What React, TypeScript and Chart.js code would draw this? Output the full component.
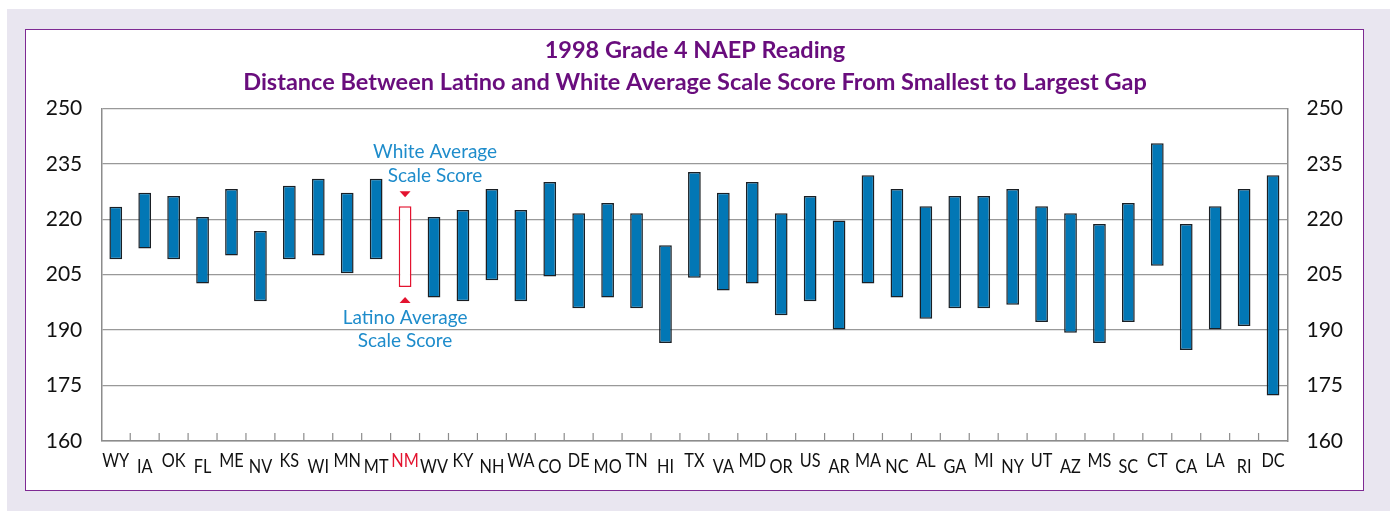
import React, { useEffect, useRef } from "react";
import { Chart, registerables } from "chart.js";

Chart.register(...registerables);

const states = ["WY","IA","OK","FL","ME","NV","KS","WI","MN","MT","NM","WV","KY","NH","WA","CO","DE","MO","TN","HI","TX","VA","MD","OR","US","AR","MA","NC","AL","GA","MI","NY","UT","AZ","MS","SC","CT","CA","LA","RI","DC"];
const whiteScores = [223.4,227.2,226.3,220.6,228.2,216.8,229.1,231.0,227.2,231.0,223.5,220.6,222.5,228.2,222.5,230.1,221.6,224.4,221.6,213.0,232.8,227.2,230.1,221.6,226.3,219.7,231.9,228.2,223.5,226.3,226.3,228.2,223.5,221.6,218.7,224.4,240.6,218.7,223.5,228.2,231.9];
const latinoScores = [209.2,212.1,209.2,202.6,210.2,197.8,209.2,210.2,205.4,209.2,201.7,198.8,197.8,203.5,197.8,204.5,195.9,198.8,195.9,186.5,204.2,200.7,202.6,194.0,197.8,190.2,202.6,198.8,193.1,195.9,195.9,196.9,192.2,189.3,186.5,192.2,207.4,184.6,190.2,191.1,172.3];
const highlightState = "NM";
const yTicks = [160, 175, 190, 205, 220, 235, 250];
const titleLines = [
  "1998 Grade 4 NAEP Reading",
  "Distance Between Latino and White Average Scale Score From Smallest to Largest Gap",
];
const whiteNote = ["White Average", "Scale Score"];
const latinoNote = ["Latino Average", "Scale Score"];

const BLUE = "#0277B5";
const RED = "#E3132F";
const NOTE = "#1E8CCB";
const PURPLE = "#690D7D";
const FONT = "Lato, 'Noto Sans', sans-serif";

export default function App() {
  const ref = useRef<HTMLCanvasElement | null>(null);

  useEffect(() => {
    if (!ref.current) return;
    const hi = states.indexOf(highlightState);

    const overlay = {
      id: "overlay",
      afterDraw(chart: any) {
        const ctx = chart.ctx;
        const xs = chart.scales.x;
        const ys = chart.scales.y;
        const area = chart.chartArea;
        ctx.save();
        // inner tick marks at category boundaries
        ctx.strokeStyle = "#8c8c8c";
        ctx.lineWidth = 1.2;
        for (let i = 1; i < states.length; i++) {
          const bx = (xs.getPixelForValue(i) + xs.getPixelForValue(i - 1)) / 2;
          ctx.beginPath();
          ctx.moveTo(bx, area.bottom);
          ctx.lineTo(bx, area.bottom - 8);
          ctx.stroke();
        }
        // x labels, alternating heights
        ctx.font = `18.5px ${FONT}`;
        ctx.textAlign = "center";
        ctx.textBaseline = "middle";
        states.forEach((s, i) => {
          const x = xs.getPixelForValue(i);
          const y = area.bottom + 20 + (i % 2 ? 6 : 0);
          ctx.fillStyle = s === highlightState ? RED : "#111";
          ctx.save();
          ctx.translate(x, y);
          ctx.scale(0.88, 1);
          ctx.fillText(s, 0, 0);
          ctx.restore();
        });
        // highlight annotations
        if (hi >= 0) {
          const x = xs.getPixelForValue(hi);
          const top = ys.getPixelForValue(whiteScores[hi]);
          const bot = ys.getPixelForValue(latinoScores[hi]);
          ctx.fillStyle = RED;
          ctx.beginPath();
          ctx.moveTo(x - 5.5, top - 15);
          ctx.lineTo(x + 5.5, top - 15);
          ctx.lineTo(x, top - 9);
          ctx.closePath();
          ctx.fill();
          ctx.beginPath();
          ctx.moveTo(x - 5.5, bot + 16);
          ctx.lineTo(x + 5.5, bot + 16);
          ctx.lineTo(x, bot + 10);
          ctx.closePath();
          ctx.fill();
          ctx.fillStyle = NOTE;
          ctx.font = `19px ${FONT}`;
          ctx.fillText(whiteNote[0], x + 30, top - 54);
          ctx.fillText(whiteNote[1], x + 30, top - 30);
          ctx.fillText(latinoNote[0], x, bot + 31);
          ctx.fillText(latinoNote[1], x, bot + 54);
        }
        ctx.restore();
      },
    };

    const chart = new Chart(ref.current, {
      type: "bar",
      data: {
        labels: states,
        datasets: [
          {
            data: states.map((_, i) => [latinoScores[i], whiteScores[i]]) as any,
            backgroundColor: states.map((s) => (s === highlightState ? "#ffffff" : BLUE)),
            borderColor: states.map((s) => (s === highlightState ? RED : "#1a1f24")),
            borderWidth: 1.5,
            borderSkipped: false,
            barPercentage: 0.44,
            categoryPercentage: 1,
            yAxisID: "y",
          },
        ],
      },
      options: {
        animation: false,
        responsive: false,
        maintainAspectRatio: false,
        layout: { padding: { top: 0, left: 0, right: 0, bottom: 0 } },
        plugins: {
          legend: { display: false },
          tooltip: { enabled: false },
          title: {
            display: true,
            text: titleLines,
            color: PURPLE,
            font: { family: FONT, size: 23.5, weight: "bold", lineHeight: 1.36 },
            padding: { top: 34, bottom: 10.5 },
          },
        },
        scales: {
          x: {
            type: "category",
            grid: { display: false, drawTicks: false },
            border: { display: true, color: "#8c8c8c", width: 1.5 },
            ticks: { display: false },
            afterFit(scale: any) {
              scale.height = 70;
            },
          },
          y: {
            type: "linear",
            position: "left",
            min: 160,
            max: 250,
            afterBuildTicks(scale: any) {
              scale.ticks = yTicks.map((v) => ({ value: v }));
            },
            grid: { color: "#999999", lineWidth: 1.3, drawTicks: false },
            border: { display: true, color: "#8c8c8c", width: 1.5 },
            ticks: {
              color: "#111",
              font: { family: FONT, size: 21 },
              padding: 19,
            },
            afterFit(scale: any) {
              scale.width = 101.3;
            },
          },
          y2: {
            type: "linear",
            position: "right",
            min: 160,
            max: 250,
            afterBuildTicks(scale: any) {
              scale.ticks = yTicks.map((v) => ({ value: v }));
            },
            grid: { drawOnChartArea: false, drawTicks: false },
            border: { display: true, color: "#8c8c8c", width: 1.5 },
            ticks: {
              color: "#111",
              font: { family: FONT, size: 21 },
              padding: 19,
            },
            afterFit(scale: any) {
              scale.width = 102.5;
            },
          },
        },
      },
      plugins: [overlay],
    });
    return () => chart.destroy();
  }, []);

  return (
    <div>
      <div
        style={{
          position: "absolute",
          left: 7,
          top: 9,
          width: 1383,
          height: 502,
          background: "#E9E6F0",
        }}
      />
      <div
        style={{
          position: "absolute",
          left: 25,
          top: 28.5,
          width: 1339,
          height: 462,
          boxSizing: "border-box",
          border: "1.5px solid #7E2A93",
          background: "#ffffff",
        }}
      />
      <canvas
        ref={ref}
        width={1390}
        height={511}
        style={{ position: "absolute", left: 0, top: 0, width: 1390, height: 511 }}
      />
    </div>
  );
}
